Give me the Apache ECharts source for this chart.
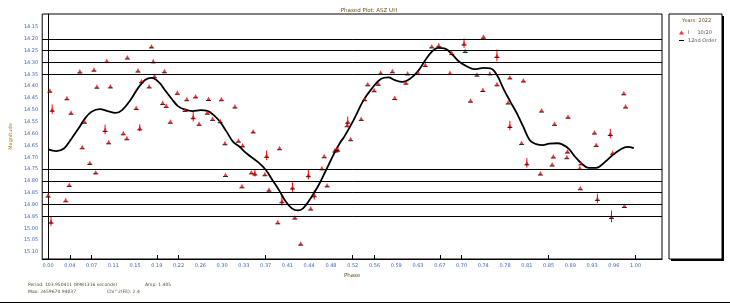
<!DOCTYPE html>
<html><head><meta charset="utf-8">
<script src="https://cdn.jsdelivr.net/npm/echarts@6/dist/echarts.min.js"></script>
<style>html,body{margin:0;padding:0;background:#fff}#c{width:730px;height:303px}</style>
</head><body><div id="c"></div>
<script>
// Observed points
const phase = [0.003,0.007,0.032,0.039,0.054,0.058,0.062,0.078,0.083,0.097,
0.100,0.103,0.106,0.128,0.134,0.135,0.150,0.153,0.156,0.159,
0.172,0.176,0.179,0.181,0.195,0.198,0.201,0.208,0.220,0.233,
0.236,0.247,0.251,0.257,0.271,0.273,0.280,0.293,0.295,0.301,
0.318,0.324,0.331,0.349,0.000,0.005,0.030,0.036,0.071,0.081,
0.302,0.330,0.346,0.352,0.394,0.491,0.510,0.509,0.515,0.533,
0.539,0.544,0.555,0.562,0.566,0.586,0.590,0.609,0.612,0.630,
0.642,0.653,0.665,0.684,0.687,0.708,0.710,0.719,0.730,0.740,
0.741,0.752,0.764,0.764,0.372,0.369,0.376,0.398,0.391,0.416,
0.420,0.430,0.443,0.447,0.453,0.466,0.470,0.475,0.488,0.493,
0.786,0.809,0.783,0.786,0.806,0.840,0.862,0.885,0.930,0.933,
0.957,0.980,0.983,0.815,0.838,0.860,0.858,0.884,0.883,0.907,
0.905,0.961,0.906,0.935,0.981,0.959];
const mag = [14.417,14.497,14.449,14.510,14.336,14.656,14.548,14.328,14.400,14.583,
14.291,14.635,14.399,14.597,14.618,14.277,14.490,14.332,14.576,14.377,
14.399,14.230,14.293,14.356,14.469,14.335,14.481,14.548,14.426,14.498,
14.453,14.529,14.441,14.557,14.510,14.452,14.536,14.546,14.453,14.639,
14.484,14.628,14.648,14.589,14.860,14.970,14.880,14.815,14.722,14.762,
14.773,14.821,14.762,14.767,14.660,14.663,14.548,14.563,14.622,14.536,
14.453,14.390,14.415,14.388,14.341,14.335,14.448,14.383,14.344,14.342,
14.308,14.230,14.225,14.342,14.258,14.218,14.249,14.459,14.349,14.414,
14.189,14.344,14.270,14.390,14.692,14.770,14.835,14.884,14.973,14.826,
14.953,15.063,14.774,14.915,14.859,14.745,14.694,14.817,14.670,14.666,
14.361,14.374,14.467,14.566,14.638,14.501,14.557,14.527,14.594,14.646,
14.600,14.428,14.484,14.724,14.767,14.695,14.729,14.674,14.698,14.724,
14.743,14.679,14.829,14.874,14.904,14.950];
const magErr = [0,0.02,0,0,0,0,0,0,0,0.02,
0,0,0,0,0,0,0,0,0.015,0,
0,0,0,0,0,0,0,0,0,0,
0,0.02,0,0,0,0,0,0,0,0,
0,0,0,0,0,0.02,0,0,0,0,
0,0,0,0.015,0,0,0.02,0,0,0,
0,0,0,0,0,0,0,0,0,0,
0,0,0,0,0,0.02,0,0,0,0,
0,0,0.025,0,0.02,0,0,0.02,0,0.02,
0,0,0.02,0,0.02,0,0,0,0,0.015,
0,0,0,0.02,0,0,0,0,0,0,
0.02,0,0,0.02,0,0,0,0,0,0,
0,0,0,0.02,0,0.025];
// Fitted curve
const fitPhase = [0.000,0.014,0.027,0.038,0.052,0.063,0.074,0.088,0.101,0.115,0.126,0.140,0.154,0.165,0.176,0.188,0.199,0.210,0.221,0.232,0.246,0.260,0.271,0.282,0.293,0.304,0.315,0.326,0.337,0.358,0.371,0.382,0.393,0.404,0.415,0.425,0.434,0.445,0.459,0.473,0.487,0.498,0.504,0.520,0.537,0.551,0.567,0.579,0.590,0.603,0.617,0.631,0.642,0.653,0.664,0.676,0.689,0.700,0.714,0.725,0.742,0.753,0.764,0.775,0.787,0.798,0.809,0.820,0.831,0.842,0.853,0.867,0.875,0.886,0.897,0.908,0.920,0.933,0.947,0.961,0.975,0.986,0.997];
const fitMag = [14.667,14.674,14.663,14.628,14.578,14.536,14.508,14.497,14.505,14.513,14.501,14.459,14.405,14.374,14.365,14.382,14.417,14.452,14.484,14.498,14.505,14.501,14.504,14.522,14.551,14.593,14.635,14.656,14.682,14.722,14.755,14.797,14.839,14.885,14.916,14.925,14.916,14.881,14.825,14.755,14.684,14.635,14.614,14.543,14.459,14.410,14.369,14.363,14.374,14.382,14.367,14.332,14.290,14.255,14.238,14.241,14.269,14.297,14.318,14.328,14.323,14.325,14.353,14.410,14.466,14.515,14.572,14.628,14.645,14.649,14.643,14.641,14.646,14.664,14.698,14.726,14.745,14.745,14.722,14.691,14.666,14.656,14.662];
// Reference (comparison) magnitudes drawn as horizontal lines
const refLines = [14.20,14.25,14.30,14.35,14.75,14.80,14.85,14.90,14.95];
// Tick labels
const xTicks = [0,0.0370,0.0741,0.1111,0.1481,0.1852,0.2222,0.2593,0.2963,0.3333,0.3704,0.4074,0.4444,0.4815,0.5185,0.5556,0.5926,0.6296,0.6667,0.7037,0.7407,0.7778,0.8148,0.8519,0.8889,0.9259,0.9630,1.0];
const xTickMarks = [0.0370,0.0741,0.1852,0.2222,0.3704,0.5185,0.5556,0.6667,0.7037,0.8519,1.0];
const yTicks = [14.15,14.20,14.25,14.30,14.35,14.40,14.45,14.50,14.55,14.60,14.65,14.70,14.75,14.80,14.85,14.90,14.95,15.00,15.05,15.10];

const FONT = 'DejaVu Sans';
const labelColor = '#3a66b8';
const chart = echarts.init(document.getElementById('c'), null, {renderer:'canvas'});
const pts = phase.map((p,i)=>[p, mag[i], magErr[i]]);
chart.setOption({
  animation:false,
  backgroundColor:'#fff',
  textStyle:{fontFamily:FONT},
  title:{text:'Phased Plot: ASZ UH', left:364, textAlign:'center', top:3,
    textStyle:{fontSize:5.5, fontWeight:'normal', color:'#6a5020', fontFamily:FONT}},
  grid:{left:28, top:14, width:634, height:245, show:true, borderColor:'#000', borderWidth:1, backgroundColor:'transparent'},
  legend:{orient:'vertical', left:674, top:25, itemWidth:5, itemHeight:4, itemGap:3,
    textStyle:{fontSize:5, color:'#555', fontFamily:FONT, padding:[0,0,0,-1]},
    data:[{name:'I     10/20', icon:'triangle'},{name:'12nd Order', icon:'path://M0,4L10,4L10,6L0,6Z'}]},
  xAxis:{type:'value', min:-0.01, max:1.045,
    axisLine:{lineStyle:{color:'#000', width:1}},
    splitLine:{show:false},
    axisTick:{show:true, inside:true, length:4, customValues:xTickMarks, lineStyle:{color:'#000'}},
    axisLabel:{customValues:xTicks, formatter:v=>v.toFixed(2), fontSize:5, color:labelColor, margin:4, fontFamily:FONT},
    name:'Phase', nameLocation:'middle', nameGap:11,
    nameTextStyle:{fontSize:5.5, color:'#6a5020', fontFamily:FONT}},
  yAxis:{type:'value', inverse:true, min:14.095, max:15.13,
    axisLine:{lineStyle:{color:'#000', width:1}},
    splitLine:{show:false},
    axisTick:{show:false},
    axisLabel:{customValues:yTicks, formatter:v=>v.toFixed(2), fontSize:5, color:labelColor, margin:4, fontFamily:FONT},
    name:'Magnitude', nameLocation:'middle', nameGap:21, nameRotate:90,
    nameTextStyle:{fontSize:5, color:'#b07a20', fontFamily:FONT}},
  series:[
    {type:'custom', name:'err', silent:true, z:2, data:pts.filter(d=>d[2]>0),
      renderItem:(params, api)=>{
        const x=api.value(0), y=api.value(1), e=api.value(2);
        const a=api.coord([x,y-e]), b=api.coord([x,y+e]);
        return {type:'line', shape:{x1:a[0],y1:a[1],x2:b[0],y2:b[1]}, style:{stroke:'#ff0000', lineWidth:1}};
      }},
    {type:'line', name:'12nd Order', data:fitPhase.map((p,i)=>[p,fitMag[i]]), smooth:0.4, symbol:'none',
      lineStyle:{color:'#000', width:1.8}, itemStyle:{color:'#000'}, z:3,
      markLine:{silent:true, symbol:'none', label:{show:false}, animation:false,
        lineStyle:{color:'#000', width:1, type:'solid'},
        data:refLines.map(v=>({yAxis:v}))}},
    {type:'scatter', name:'I     10/20', data:pts, symbol:'triangle', symbolSize:[4,4],
      itemStyle:{color:'#ff0000'}, z:4},
    {type:'scatter', name:'base', data:pts, symbol:'rect', symbolSize:[5,1], symbolOffset:[0,2],
      itemStyle:{color:'#000'}, z:5}
  ],
  graphic:[
    {type:'rect', z:-1, shape:{x:671, y:16, width:53, height:245}, style:{fill:'#000'}},
    {type:'rect', z:-1, shape:{x:669, y:14, width:53, height:245}, style:{fill:'#fff', stroke:'#000', lineWidth:1}},
    {type:'text', left:682, top:18, style:{text:'Years: 2022', fontSize:5, fill:'#6a5020', fontFamily:FONT}},
    {type:'text', left:28, top:282, style:{text:'Period: 103.950411 (8981316 seconds)', fontSize:4.5, fill:'#5a4a30', fontFamily:FONT}},
    {type:'text', left:145, top:282, style:{text:'Amp: 1.405', fontSize:4.5, fill:'#5a4a30', fontFamily:FONT}},
    {type:'text', left:28, top:289, style:{text:'Max: 2459670.94037', fontSize:4.5, fill:'#5a4a30', fontFamily:FONT}},
    {type:'text', left:107, top:289, style:{text:'Chi^2(Fit): 2.4', fontSize:4.5, fill:'#5a4a30', fontFamily:FONT}},
    {type:'line', shape:{x1:0, y1:302.5, x2:730, y2:302.5}, style:{stroke:'#000', lineWidth:1}}
  ]
});
</script></body></html>
